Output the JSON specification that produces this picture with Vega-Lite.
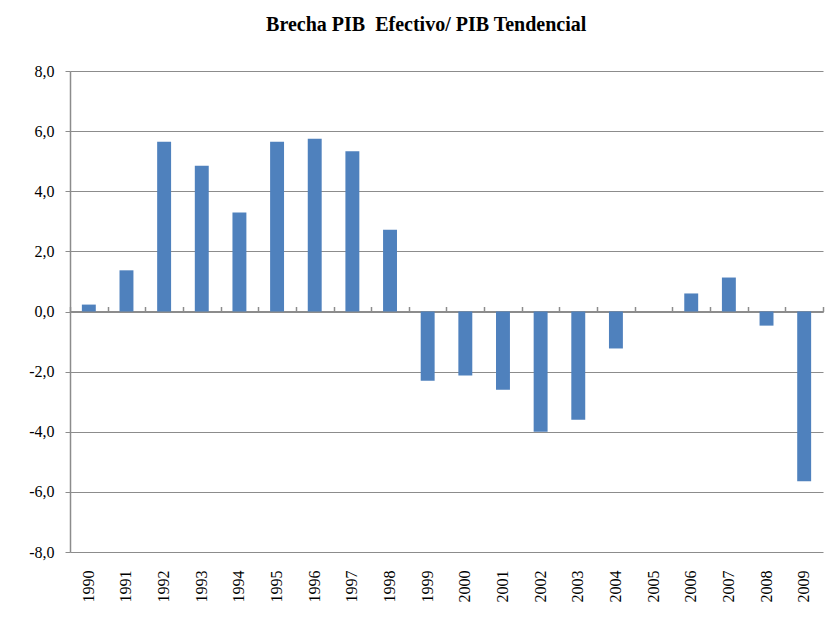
{
  "$schema": "https://vega.github.io/schema/vega-lite/v6.json",
  "autosize": {"type": "none"},
  "width": 753,
  "height": 481,
  "padding": {"left": 70, "top": 71, "right": 13, "bottom": 75},
  "background": "white",
  "title": {
    "text": "Brecha PIB \u00a0Efectivo/ PIB Tendencial",
    "font": "Liberation Serif",
    "fontSize": 20,
    "fontWeight": "bold",
    "color": "#000000",
    "anchor": "middle",
    "frame": "bounds",
    "offset": 28
  },
  "config": {
    "view": {"stroke": null}
  },
  "data": {
    "values": [
      {"year": "1990", "value": 0.23},
      {"year": "1991", "value": 1.37},
      {"year": "1992", "value": 5.65},
      {"year": "1993", "value": 4.85},
      {"year": "1994", "value": 3.29},
      {"year": "1995", "value": 5.65},
      {"year": "1996", "value": 5.75},
      {"year": "1997", "value": 5.33},
      {"year": "1998", "value": 2.72},
      {"year": "1999", "value": -2.3},
      {"year": "2000", "value": -2.13},
      {"year": "2001", "value": -2.6},
      {"year": "2002", "value": -4.0},
      {"year": "2003", "value": -3.6},
      {"year": "2004", "value": -1.23},
      {"year": "2005", "value": 0.0},
      {"year": "2006", "value": 0.6},
      {"year": "2007", "value": 1.13},
      {"year": "2008", "value": -0.47},
      {"year": "2009", "value": -5.65}
    ]
  },
  "resolve": {"axis": {"x": "independent", "y": "independent"}},
  "layer": [
    {
      "mark": {"type": "bar", "color": "#4F81BD", "width": {"band": 0.37}},
      "encoding": {
        "x": {
          "field": "year",
          "type": "ordinal",
          "scale": {"paddingInner": 0, "paddingOuter": 0},
          "axis": {
            "title": null,
            "labelAngle": -90,
            "labelPadding": 18,
            "labelFont": "Liberation Serif",
            "labelFontSize": 16,
            "labelColor": "#000000",
            "domain": false,
            "ticks": false,
            "grid": false
          }
        },
        "y": {
          "field": "value",
          "type": "quantitative",
          "scale": {"domain": [-8, 8], "nice": false},
          "axis": {
            "title": null,
            "values": [-8, -6, -4, -2, 0, 2, 4, 6, 8],
            "labelExpr": "replace(replace(format(datum.value, '.1f'), '.', ','), '\u2212', '-')",
            "labelFont": "Liberation Serif",
            "labelFontSize": 16,
            "labelColor": "#000000",
            "grid": true,
            "gridColor": "#8c8c8c",
            "gridWidth": 1.2,
            "domain": true,
            "domainColor": "#8c8c8c",
            "domainWidth": 1.5,
            "ticks": true,
            "tickColor": "#8c8c8c",
            "tickSize": 5,
            "labelPadding": 11
          }
        }
      }
    },
    {
      "mark": {"type": "bar", "opacity": 0},
      "encoding": {
        "x": {
          "field": "year",
          "type": "ordinal",
          "axis": {
            "title": null,
            "labels": false,
            "offset": -240.5,
            "domain": true,
            "domainColor": "#8c8c8c",
            "domainWidth": 2,
            "ticks": true,
            "tickBand": "extent",
            "tickColor": "#8c8c8c",
            "tickWidth": 1.5,
            "tickSize": 5,
            "grid": false
          }
        },
        "y": {"field": "value", "type": "quantitative", "axis": null}
      }
    }
  ]
}
